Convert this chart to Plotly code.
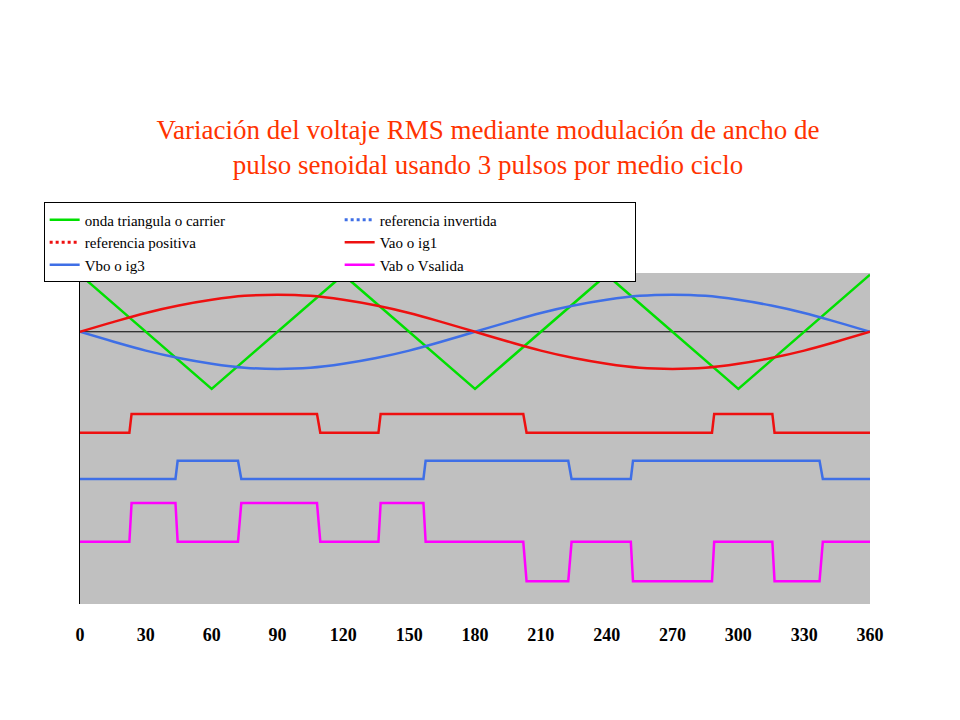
import plotly.graph_objects as go

# carrier triangle vertices (deg, value)
carrier_x = [0, 60, 120, 180, 240, 300, 360]
carrier_y = [1, -1, 1, -1, 1, -1, 1]

# sine references read every 15 deg
ref_x = [0, 15, 30, 45, 60, 75, 90, 105, 120, 135, 150, 165, 180,
         195, 210, 225, 240, 255, 270, 285, 300, 315, 330, 345, 360]
ref_pos = [0, 0.17, 0.33, 0.46, 0.56, 0.63, 0.65, 0.63, 0.56, 0.46, 0.33, 0.17, 0,
           -0.17, -0.33, -0.46, -0.56, -0.63, -0.65, -0.63, -0.56, -0.46, -0.33, -0.17, 0]
ref_inv = [0, -0.17, -0.33, -0.46, -0.56, -0.63, -0.65, -0.63, -0.56, -0.46, -0.33, -0.17, 0,
           0.17, 0.33, 0.46, 0.56, 0.63, 0.65, 0.63, 0.56, 0.46, 0.33, 0.17, 0]

# switching signals (step shapes)
vao_x = [0, 22.5, 23.5, 108, 109.5, 136, 137, 202, 203.5, 288, 289, 315.5, 316.5, 360]
vao_y = [-1.77, -1.77, -1.44, -1.44, -1.77, -1.77, -1.44, -1.44, -1.77, -1.77, -1.44, -1.44, -1.77, -1.77]
vbo_x = [0, 43.5, 44.5, 72, 73.5, 156.5, 157.5, 222.5, 224, 251, 252, 337, 338.5, 360]
vbo_y = [-2.58, -2.58, -2.26, -2.26, -2.58, -2.58, -2.26, -2.26, -2.58, -2.58, -2.26, -2.26, -2.58, -2.58]
vab_x = [0, 22.5, 23.5, 43.5, 44.5, 72, 73.5, 108, 109.5, 136, 137, 156.5, 157.5,
         202, 203.5, 222.5, 224, 251, 252, 288, 289, 315.5, 316.5, 337, 338.5, 360]
vab_y = [-3.68, -3.68, -3.0, -3.0, -3.68, -3.68, -3.0, -3.0, -3.68, -3.68, -3.0, -3.0, -3.68,
         -3.68, -4.37, -4.37, -3.68, -3.68, -4.37, -4.37, -3.68, -3.68, -4.37, -4.37, -3.68, -3.68]

green = "#00E000"
red = "#EE1010"
blue = "#3F6FE6"
magenta = "#FF00FF"
serif = "Liberation Serif"

fig = go.Figure()
fig.add_trace(go.Scatter(x=carrier_x, y=carrier_y, mode="lines", line=dict(color=green, width=2.5),
                         name="onda triangula o carrier"))
fig.add_trace(go.Scatter(x=[None], y=[None], mode="lines", line=dict(color=blue, width=3, dash="dot"),
                         name="referencia invertida"))
fig.add_trace(go.Scatter(x=[None], y=[None], mode="lines", line=dict(color=red, width=3, dash="dot"),
                         name="referencia positiva"))
fig.add_trace(go.Scatter(x=vao_x, y=vao_y, mode="lines", line=dict(color=red, width=2.5), name="Vao o ig1"))
fig.add_trace(go.Scatter(x=vbo_x, y=vbo_y, mode="lines", line=dict(color=blue, width=2.5), name="Vbo o ig3"))
fig.add_trace(go.Scatter(x=vab_x, y=vab_y, mode="lines", line=dict(color=magenta, width=2.5), name="Vab o Vsalida"))
fig.add_trace(go.Scatter(x=ref_x, y=ref_inv, mode="lines", line=dict(color=blue, width=2.5, shape="spline"),
                         showlegend=False))
fig.add_trace(go.Scatter(x=ref_x, y=ref_pos, mode="lines", line=dict(color=red, width=2.5, shape="spline"),
                         showlegend=False))

fig.add_shape(type="line", xref="x", yref="y", x0=0, x1=360, y0=0, y1=0,
              line=dict(color="black", width=1), layer="below")

fig.update_layout(
    width=960, height=720,
    paper_bgcolor="white", plot_bgcolor="#C0C0C0",
    margin=dict(l=72, r=98, t=265, b=124, autoexpand=False),
    title=dict(text="Variación del voltaje RMS mediante modulación de ancho de<br>pulso senoidal usando 3 pulsos por medio ciclo",
               x=0.5, xanchor="center", y=0.818, yanchor="middle",
               font=dict(family=serif, size=27, color="#FF3300")),
    legend=dict(orientation="h", x=-0.046, xanchor="left", y=1.213, yanchor="top",
                entrywidth=250, bgcolor="white", bordercolor="black", borderwidth=1,
                font=dict(family=serif, size=15, color="black"),
                traceorder="normal"),
    xaxis=dict(range=[0, 360], tickvals=list(range(0, 361, 30)), showgrid=False, zeroline=False,
               tickfont=dict(family=serif, size=18, color="black", weight="bold"),
               ticks="", ticklabelstandoff=18),
    yaxis=dict(range=[-4.77, 1.03], showgrid=False, zeroline=False, showticklabels=False,
               showline=True, linecolor="black", linewidth=1, ticks=""),
)

fig.write_html("out.html")
